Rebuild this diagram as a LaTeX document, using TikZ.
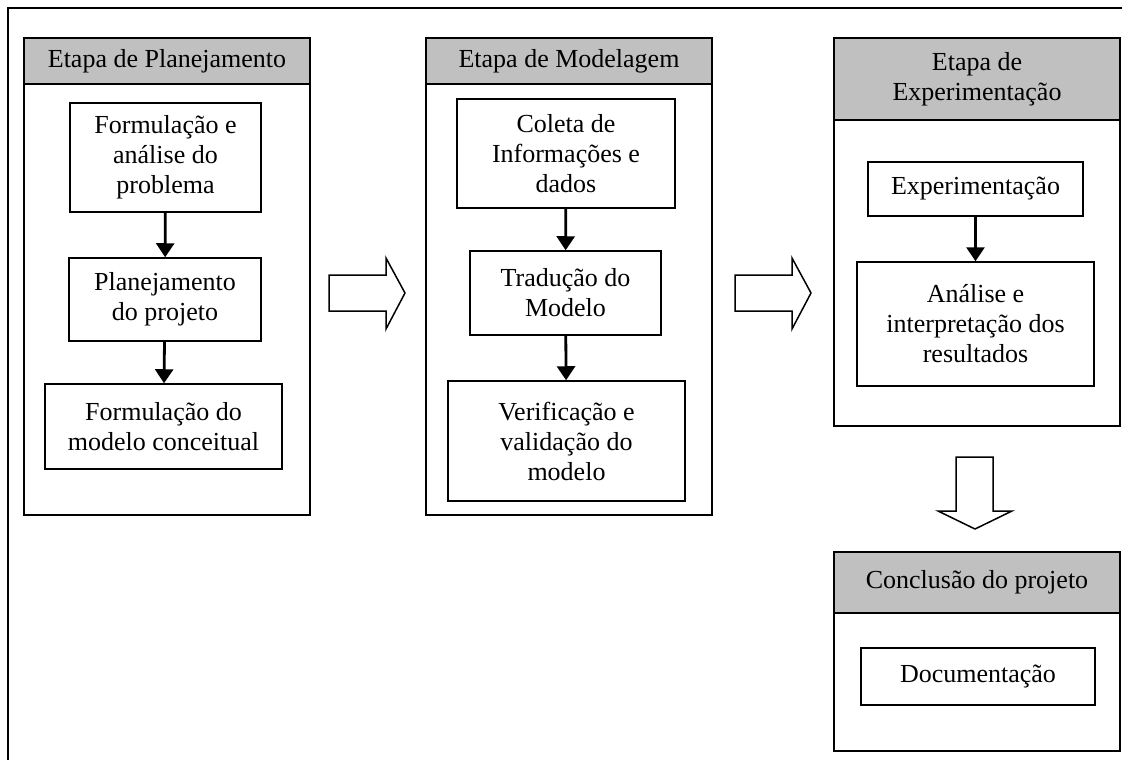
\documentclass[tikz,border=0pt]{standalone}
\usepackage{fontspec}
\setmainfont{Liberation Serif}
\usetikzlibrary{arrows.meta}
\definecolor{HeadGray}{HTML}{C0C0C0}

\begin{document}
\begin{tikzpicture}[x=1pt, y=-1pt, font=\fontsize{26}{30}\selectfont,
  >={Triangle[length=14pt,width=18pt]},
  panel/.style={draw, line width=1.5pt, inner sep=0pt, minimum width=286pt},
  head/.style={draw, fill=HeadGray, line width=1.5pt, align=center, inner sep=0pt, minimum width=286pt, anchor=north},
  stepbox/.style={draw, line width=1.5pt, align=center, inner sep=0pt},
  flow/.style={->, line width=2.8pt},
  hollow/.style={draw, fill=white, line width=1.5pt, line join=miter}]
\useasboundingbox (0,0) rectangle (1122,760);
% outer frame
\draw[line width=2pt] (1122,8) -- (8,8) -- (8,760);
% planejamento
\node[panel, minimum height=477pt] (plan) at (167,276.5) {};
\node[head, minimum height=46pt] (planhead) at (plan.north) {Etapa de Planejamento};
\node[stepbox, minimum width=191pt, minimum height=109pt] (form) at (165.5,157.5) {Formulação e\\análise do\\problema};
\node[stepbox, minimum width=192pt, minimum height=83pt] (projeto) at (165,299.5) {Planejamento\\do projeto};
\node[stepbox, minimum width=237pt, minimum height=85pt] (conceito) at (163.5,426.5) {Formulação do\\modelo conceitual};
\draw[flow] (form) -- (projeto);
\draw[flow] (projeto) -- (conceito);
% modelagem
\node[panel, minimum height=477pt] (model) at (569,276.5) {};
\node[head, minimum height=46pt] (modelhead) at (model.north) {Etapa de Modelagem};
\node[stepbox, minimum width=218pt, minimum height=109pt] (coleta) at (566,153.5) {Coleta de\\Informações e\\dados};
\node[stepbox, minimum width=191pt, minimum height=84pt] (traducao) at (565.5,293) {Tradução do\\Modelo};
\node[stepbox, minimum width=237pt, minimum height=120pt] (valida) at (566.5,441) {Verificação e\\validação do\\modelo};
\draw[flow] (coleta) -- (traducao);
\draw[flow] (traducao) -- (valida);
% experimentacao
\node[panel, minimum height=388pt] (exper) at (977,232) {};
\node[head, minimum height=82pt] (experhead) at (exper.north) {Etapa de\\Experimentação};
\node[stepbox, minimum width=215pt, minimum height=54pt] (experim) at (975.5,189) {Experimentação};
\node[stepbox, minimum width=237pt, minimum height=124pt] (analise) at (975.5,324) {Análise e\\interpretação dos\\resultados};
\draw[flow] (experim) -- (analise);
% conclusao
\node[panel, minimum height=199pt] (concl) at (977,651.5) {};
\node[head, minimum height=61pt] (conclhead) at (concl.north) {Conclusão do projeto};
\node[stepbox, minimum width=234pt, minimum height=57pt] (docum) at (978,676.5) {Documentação};
% hollow arrows between stages
\draw[hollow] (329,275) -- (386,275) -- (386,258) -- (405,293) -- (386,329) -- (386,311) -- (329,311) -- cycle;
\draw[hollow] (735,275) -- (792,275) -- (792,258) -- (811,293) -- (792,329) -- (792,311) -- (735,311) -- cycle;
\draw[hollow] (956,457) -- (993,457) -- (993,511) -- (1012,511) -- (975,529) -- (938,511) -- (956,511) -- cycle;
\end{tikzpicture}
\end{document}
